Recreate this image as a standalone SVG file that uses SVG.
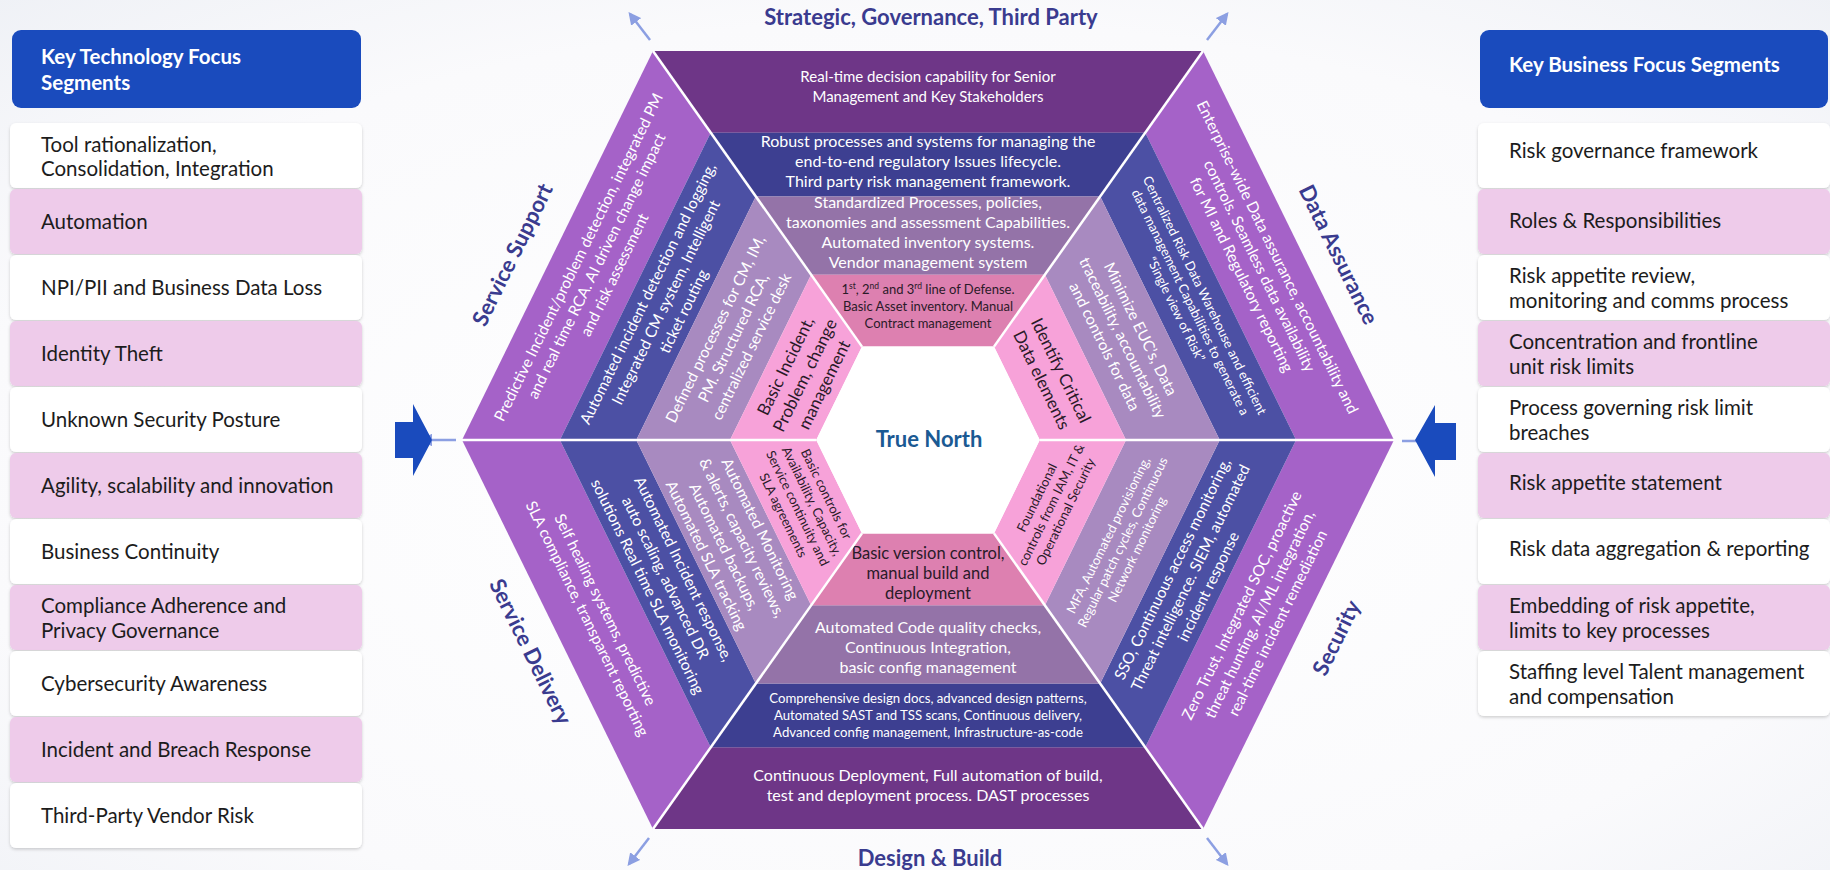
<svg xmlns="http://www.w3.org/2000/svg" width="1830" height="870" viewBox="0 0 1830 870">
<defs>
<radialGradient id="bg" cx="0.5" cy="0.55" r="0.75">
<stop offset="0" stop-color="#ffffff"/>
<stop offset="0.7" stop-color="#fafafc"/>
<stop offset="1" stop-color="#eff1f6"/>
</radialGradient>
<filter id="sh" x="-5%" y="-20%" width="110%" height="150%">
<feDropShadow dx="0" dy="1.5" stdDeviation="1.5" flood-color="#000" flood-opacity="0.18"/>
</filter>
<marker id="ah" viewBox="0 0 10 10" refX="8" refY="5" markerWidth="5" markerHeight="5" orient="auto-start-reverse">
<path d="M0,0 L10,5 L0,10 z" fill="#8c9fe2"/>
</marker>
<style>
text{font-family:Lato,"Liberation Sans",sans-serif}
.hdr{fill:#1a4bbd}
.hdrt{fill:#fff;font-weight:700;font-size:20.5px}
.rw{fill:#ffffff;filter:url(#sh)}
.rp{fill:#eecbea;filter:url(#sh)}
.it{fill:#1c1c1c;font-size:20.5px}
.w{fill:#fff;font-size:15.5px;text-anchor:middle}
.w15{fill:#fff;font-size:15px;text-anchor:middle}
.w16{fill:#fff;font-size:16px;text-anchor:middle}
.ws{fill:#fff;font-size:13.2px;text-anchor:middle}
.wx{fill:#fff;font-size:13px;text-anchor:middle}
.d{fill:#2a1a28;font-size:17px;text-anchor:middle}
.ds{fill:#2a1a28;font-size:13px;text-anchor:middle}
.dt{fill:#2a1a28;font-size:13px;text-anchor:middle}
.dm{fill:#2a1a28;font-size:16.5px;text-anchor:middle}
.ttl{fill:#3a3b8f;font-weight:700;font-size:22px;text-anchor:middle}
.tn{fill:#1b5a93;font-weight:700;font-size:22px;text-anchor:middle}
.c1{fill:#6e3687}.c2{fill:#3d3f91}.c3{fill:#9473a8}.c4{fill:#dd80b0}
.s1{fill:#a562c8}.s2{fill:#4c50a4}.s3{fill:#a88ac0}.s4{fill:#f7a2d9}
.sep{stroke:#fff;stroke-width:2.5;fill:none}
.ar{stroke:#8c9fe2;stroke-width:2.5;fill:none;marker-end:url(#ah)}
.blk{fill:#1a4bbd}
</style>
</defs>
<rect x="0" y="0" width="1830" height="870" fill="url(#bg)"/>

<!-- Left panel -->
<g id="left-panel">
<g id="left-header"><rect class="hdr" x="12" y="30" width="349" height="78" rx="9"/>
<text class="hdrt" x="41" y="64">Key Technology Focus</text><text class="hdrt" x="41" y="90">Segments</text></g>
<g id="l1"><rect class="rw" x="10" y="123" width="352" height="65" rx="6"/><text class="it" x="41" y="152">Tool rationalization,</text><text class="it" x="41" y="176">Consolidation, Integration</text></g>
<g id="l2"><rect class="rp" x="10" y="189" width="352" height="65" rx="6"/><text class="it" x="41" y="229">Automation</text></g>
<g id="l3"><rect class="rw" x="10" y="255" width="352" height="65" rx="6"/><text class="it" x="41" y="295">NPI/PII and Business Data Loss</text></g>
<g id="l4"><rect class="rp" x="10" y="321" width="352" height="65" rx="6"/><text class="it" x="41" y="361">Identity Theft</text></g>
<g id="l5"><rect class="rw" x="10" y="387" width="352" height="65" rx="6"/><text class="it" x="41" y="427">Unknown Security Posture</text></g>
<g id="l6"><rect class="rp" x="10" y="453" width="352" height="65" rx="6"/><text class="it" x="41" y="493">Agility, scalability and innovation</text></g>
<g id="l7"><rect class="rw" x="10" y="519" width="352" height="65" rx="6"/><text class="it" x="41" y="559">Business Continuity</text></g>
<g id="l8"><rect class="rp" x="10" y="585" width="352" height="65" rx="6"/><text class="it" x="41" y="613">Compliance Adherence and</text><text class="it" x="41" y="638">Privacy Governance</text></g>
<g id="l9"><rect class="rw" x="10" y="651" width="352" height="65" rx="6"/><text class="it" x="41" y="691">Cybersecurity Awareness</text></g>
<g id="l10"><rect class="rp" x="10" y="717" width="352" height="65" rx="6"/><text class="it" x="41" y="757">Incident and Breach Response</text></g>
<g id="l11"><rect class="rw" x="10" y="783" width="352" height="65" rx="6"/><text class="it" x="41" y="823">Third-Party Vendor Risk</text></g>
</g>

<!-- Right panel -->
<g id="right-panel">
<g id="right-header"><rect class="hdr" x="1480" y="30" width="348" height="78" rx="9"/>
<text class="hdrt" x="1509" y="72">Key Business Focus Segments</text></g>
<g id="r1"><rect class="rw" x="1478" y="123" width="352" height="65" rx="6"/><text class="it" x="1509" y="158">Risk governance framework</text></g>
<g id="r2"><rect class="rp" x="1478" y="189" width="352" height="65" rx="6"/><text class="it" x="1509" y="228">Roles &amp; Responsibilities</text></g>
<g id="r3"><rect class="rw" x="1478" y="255" width="352" height="65" rx="6"/><text class="it" x="1509" y="283">Risk appetite review,</text><text class="it" x="1509" y="308">monitoring and comms process</text></g>
<g id="r4"><rect class="rp" x="1478" y="321" width="352" height="65" rx="6"/><text class="it" x="1509" y="349">Concentration and frontline</text><text class="it" x="1509" y="374">unit risk limits</text></g>
<g id="r5"><rect class="rw" x="1478" y="387" width="352" height="65" rx="6"/><text class="it" x="1509" y="415">Process governing risk limit</text><text class="it" x="1509" y="440">breaches</text></g>
<g id="r6"><rect class="rp" x="1478" y="453" width="352" height="65" rx="6"/><text class="it" x="1509" y="490">Risk appetite statement</text></g>
<g id="r7"><rect class="rw" x="1478" y="519" width="352" height="65" rx="6"/><text class="it" x="1509" y="556">Risk data aggregation &amp; reporting</text></g>
<g id="r8"><rect class="rp" x="1478" y="585" width="352" height="65" rx="6"/><text class="it" x="1509" y="613">Embedding of risk appetite,</text><text class="it" x="1509" y="638">limits to key processes</text></g>
<g id="r9"><rect class="rw" x="1478" y="651" width="352" height="65" rx="6"/><text class="it" x="1509" y="679">Staffing level Talent management</text><text class="it" x="1509" y="704">and compensation</text></g>
</g>

<!-- Hexagon wedges -->
<g id="wedge-top">
<polygon class="c1" points="653,51 1203,51 1145.3,132.7 710.7,132.7"/>
<polygon class="c2" points="710.7,132.7 1145.3,132.7 1100.2,196.5 755.8,196.5"/>
<polygon class="c3" points="755.8,196.5 1100.2,196.5 1044.9,274.7 811.1,274.7"/>
<polygon class="c4" points="811.1,274.7 1044.9,274.7 994,346.6 862,346.6"/>
<text class="w15" x="928" y="82">Real-time decision capability for Senior</text>
<text class="w15" x="928" y="102">Management and Key Stakeholders</text>
<text class="w16" x="928" y="147">Robust processes and systems for managing the</text>
<text class="w16" x="928" y="167">end-to-end regulatory Issues lifecycle.</text>
<text class="w16" x="928" y="187">Third party risk management framework.</text>
<text class="w16" x="928" y="208">Standardized Processes, policies,</text>
<text class="w16" x="928" y="228">taxonomies and assessment Capabilities.</text>
<text class="w16" x="928" y="248">Automated inventory systems.</text>
<text class="w16" x="928" y="268">Vendor management system</text>
<text class="dt" x="928" y="294">1<tspan font-size="8.5" baseline-shift="super">st</tspan>, 2<tspan font-size="8.5" baseline-shift="super">nd</tspan> and 3<tspan font-size="8.5" baseline-shift="super">rd</tspan> line of Defense.</text>
<text class="dt" x="928" y="311">Basic Asset inventory. Manual</text>
<text class="dt" x="928" y="328">Contract management</text>
</g>

<g id="wedge-bottom">
<polygon class="c1" points="653,829 1203,829 1145.3,747.3 710.7,747.3"/>
<polygon class="c2" points="710.7,747.3 1145.3,747.3 1100.2,683.5 755.8,683.5"/>
<polygon class="c3" points="755.8,683.5 1100.2,683.5 1044.9,605.3 811.1,605.3"/>
<polygon class="c4" points="811.1,605.3 1044.9,605.3 994,533.4 862,533.4"/>
<text class="dm" x="928" y="559">Basic version control,</text>
<text class="dm" x="928" y="579">manual build and</text>
<text class="dm" x="928" y="599">deployment</text>
<text class="w16" x="928" y="633">Automated Code quality checks,</text>
<text class="w16" x="928" y="653">Continuous Integration,</text>
<text class="w16" x="928" y="673">basic config management</text>
<text class="ws" x="928" y="703">Comprehensive design docs, advanced design patterns,</text>
<text class="ws" x="928" y="720">Automated SAST and TSS scans, Continuous delivery,</text>
<text class="ws" x="928" y="737">Advanced config management, Infrastructure-as-code</text>
<text class="w16" x="928" y="781">Continuous Deployment, Full automation of build,</text>
<text class="w16" x="928" y="801">test and deployment process. DAST processes</text>
</g>

<g id="wedge-upper-left">
<polygon class="s1" points="462,440 653,51 710.7,132.7 559.9,440"/>
<polygon class="s2" points="559.9,440 710.7,132.7 755.8,196.5 636.3,440"/>
<polygon class="s3" points="636.3,440 755.8,196.5 811.1,274.7 730,440"/>
<polygon class="s4" points="730,440 811.1,274.7 862,346.6 816.2,440"/>
<g transform="translate(596.4,265.9) rotate(-63.85)">
<text class="w" y="-14.5">Predictive Incident/problem detection, integrated PM</text>
<text class="w" y="5.5">and real time RCA. AI driven change impact</text>
<text class="w" y="25.5">and risk assessment</text></g>
<g transform="translate(665.7,302.3) rotate(-63.85)">
<text class="w" y="-14.5">Automated incident detection and logging,</text>
<text class="w" y="5.5">Integrated CM system, Intelligent</text>
<text class="w" y="25.5">ticket routing</text></g>
<g transform="translate(733.3,337.8) rotate(-63.85)">
<text class="w" y="-14.5">Defined processes for CM, IM,</text>
<text class="w" y="5.5">PM. Structured RCA,</text>
<text class="w" y="25.5">centralized service desk</text></g>
<g transform="translate(804.8,375.3) rotate(-63.85)">
<text class="d" y="-15.5">Basic Incident,</text>
<text class="d" y="6">Problem, change</text>
<text class="d" y="27.5">management</text></g>
</g>

<g id="wedge-upper-right">
<polygon class="s1" points="1394,440 1203,51 1145.3,132.7 1296.1,440"/>
<polygon class="s2" points="1296.1,440 1145.3,132.7 1100.2,196.5 1219.7,440"/>
<polygon class="s3" points="1219.7,440 1100.2,196.5 1044.9,274.7 1126,440"/>
<polygon class="s4" points="1126,440 1044.9,274.7 994,346.6 1039.8,440"/>
<g transform="translate(1259.6,265.9) rotate(63.85)">
<text class="w" y="-14.5">Enterprise-wide Data assurance, accountability and</text>
<text class="w" y="5.5">controls. Seamless data availability</text>
<text class="w" y="25.5">for MI and Regulatory reporting</text></g>
<g transform="translate(1190.3,302.3) rotate(63.85)">
<text class="wx" y="-11.5">Centralized Risk Data Warehouse and efficient</text>
<text class="wx" y="4.5">data management Capabilities to generate a</text>
<text class="wx" y="20.5">“Single view of Risk”</text></g>
<g transform="translate(1122.7,337.8) rotate(63.85)">
<text class="w" y="-14.5">Minimize EUC’s, Data</text>
<text class="w" y="5.5">traceability, accountability</text>
<text class="w" y="25.5">and controls for data</text></g>
<g transform="translate(1051.2,375.3) rotate(63.85)">
<text class="d" y="-5">Identify Critical</text>
<text class="d" y="16.5">Data elements</text></g>
</g>

<g id="wedge-lower-left">
<polygon class="s1" points="462,440 653,829 710.7,747.3 559.9,440"/>
<polygon class="s2" points="559.9,440 710.7,747.3 755.8,683.5 636.3,440"/>
<polygon class="s3" points="636.3,440 755.8,683.5 811.1,605.3 730,440"/>
<polygon class="s4" points="730,440 811.1,605.3 862,533.4 816.2,440"/>
<g transform="translate(596.4,614.1) rotate(63.85)">
<text class="w" y="-4.5">Self healing systems, predictive</text>
<text class="w" y="15.5">SLA compliance, transparent reporting</text></g>
<g transform="translate(665.7,577.7) rotate(63.85)">
<text class="w" y="-14.5">Automated Incident response,</text>
<text class="w" y="5.5">auto scaling, advanced DR</text>
<text class="w" y="25.5">solutions Real time SLA monitoring</text></g>
<g transform="translate(733.3,542.2) rotate(63.85)">
<text class="w" y="-24.5">Automated Monitoring</text>
<text class="w" y="-4.5">&amp; alerts, capacity reviews,</text>
<text class="w" y="15.5">Automated backups,</text>
<text class="w" y="35.5">Automated SLA tracking</text></g>
<g transform="translate(804.8,504.7) rotate(63.85)">
<text class="ds" y="-19.5">Basic controls for</text>
<text class="ds" y="-3.5">Availability, Capacity,</text>
<text class="ds" y="12.5">Service continuity and</text>
<text class="ds" y="28.5">SLA agreements</text></g>
</g>

<g id="wedge-lower-right">
<polygon class="s1" points="1394,440 1203,829 1145.3,747.3 1296.1,440"/>
<polygon class="s2" points="1296.1,440 1145.3,747.3 1100.2,683.5 1219.7,440"/>
<polygon class="s3" points="1219.7,440 1100.2,683.5 1044.9,605.3 1126,440"/>
<polygon class="s4" points="1126,440 1044.9,605.3 994,533.4 1039.8,440"/>
<g transform="translate(1259.6,614.1) rotate(-63.85)">
<text class="w" y="-14.5">Zero Trust, Integrated SOC, proactive</text>
<text class="w" y="5.5">threat hunting. AI/ML integration,</text>
<text class="w" y="25.5">real-time incident remediation</text></g>
<g transform="translate(1190.3,577.7) rotate(-63.85)">
<text class="w" y="-14.5">SSO, Continuous access monitoring,</text>
<text class="w" y="5.5">Threat intelligence. SIEM, automated</text>
<text class="w" y="25.5">incident response</text></g>
<g transform="translate(1122.7,542.2) rotate(-63.85)">
<text class="wx" y="-11.5">MFA, Automated provisioning,</text>
<text class="wx" y="4.5">Regular patch cycles, Continuous</text>
<text class="wx" y="20.5">Network monitoring</text></g>
<g transform="translate(1051.2,504.7) rotate(-63.85)">
<text class="ds" y="-11.5">Foundational</text>
<text class="ds" y="4.5">controls from IAM, IT &amp;</text>
<text class="ds" y="20.5">Operational Security</text></g>
</g>

<g id="separators">
<line class="sep" x1="462" y1="440" x2="816.2" y2="440"/>
<line class="sep" x1="1394" y1="440" x2="1039.8" y2="440"/>
<line class="sep" x1="653" y1="51" x2="862" y2="346.6"/>
<line class="sep" x1="1203" y1="51" x2="994" y2="346.6"/>
<line class="sep" x1="653" y1="829" x2="862" y2="533.4"/>
<line class="sep" x1="1203" y1="829" x2="994" y2="533.4"/>
</g>

<g id="center">
<polygon fill="#ffffff" points="816.2,440 862,346.6 994,346.6 1039.8,440 994,533.4 862,533.4"/>
<text class="tn" x="929" y="447">True North</text>
</g>

<g id="titles">
<text class="ttl" x="931" y="25">Strategic, Governance, Third Party</text>
<text class="ttl" x="930" y="866">Design &amp; Build</text>
<g transform="translate(513,255) rotate(-63.85)"><text class="ttl" y="7">Service Support</text></g>
<g transform="translate(1338,255) rotate(63.85)"><text class="ttl" y="7">Data Assurance</text></g>
<g transform="translate(530,652) rotate(63.85)"><text class="ttl" y="7">Service Delivery</text></g>
<g transform="translate(1337,638) rotate(-63.85)"><text class="ttl" y="7">Security</text></g>
</g>

<g id="connectors">
<line class="ar" x1="650" y1="40" x2="630" y2="14"/>
<line class="ar" x1="1207" y1="40" x2="1227" y2="14"/>
<line class="ar" x1="649" y1="838" x2="629" y2="864"/>
<line class="ar" x1="1207" y1="838" x2="1227" y2="864"/>
<line class="ar" x1="456" y1="440" x2="422" y2="440"/>
<line class="ar" x1="1402" y1="441" x2="1437" y2="441"/>
<polygon class="blk" points="395,422 413,422 413,404 432,440 413,476 413,458 395,458"/>
<polygon class="blk" points="1456,423 1435,423 1435,405 1415,440 1435,477 1435,460 1456,460"/>
</g>
</svg>
